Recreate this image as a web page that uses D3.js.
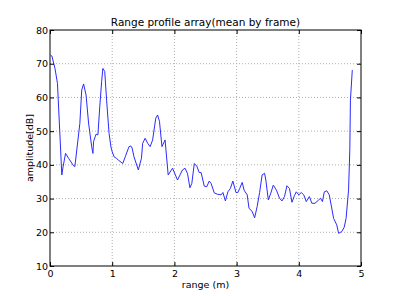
<!DOCTYPE html>
<html>
<head>
<meta charset="utf-8">
<script src="https://cdn.jsdelivr.net/npm/d3@7"></script>
<style>
  body { margin: 0; background: #fff; }
  svg { display: block; font-family: "DejaVu Sans", sans-serif; }
  .grid line { stroke: #b0b0b0; stroke-dasharray: 1,2; }
</style>
</head>
<body>
<div id="chart"></div>
<script>
// range (m) and mean amplitude (dB)
var rangeM = [0.01, 0.03, 0.08, 0.12, 0.19, 0.21, 0.25, 0.30, 0.38, 0.40, 0.48, 0.51, 0.54, 0.58, 0.62, 0.67, 0.69,
  0.70, 0.73, 0.74, 0.77, 0.80, 0.83, 0.85, 0.88, 0.91, 0.95, 0.98, 1.00, 1.03, 1.07, 1.10, 1.17, 1.21, 1.27, 1.30,
  1.32, 1.35, 1.42, 1.47, 1.49, 1.53, 1.57, 1.61, 1.65, 1.70, 1.73, 1.76, 1.80, 1.85, 1.90, 1.97, 2.05, 2.13, 2.17,
  2.21, 2.25, 2.28, 2.32, 2.36, 2.40, 2.43, 2.48, 2.52, 2.56, 2.59, 2.64, 2.69, 2.75, 2.78, 2.82, 2.86, 2.90, 2.94,
  2.99, 3.02, 3.05, 3.09, 3.12, 3.17, 3.20, 3.25, 3.29, 3.33, 3.37, 3.41, 3.45, 3.47, 3.51, 3.55, 3.59, 3.64, 3.69,
  3.73, 3.77, 3.81, 3.85, 3.89, 3.93, 3.96, 4.00, 4.04, 4.08, 4.12, 4.17, 4.21, 4.26, 4.32, 4.35, 4.38, 4.41, 4.45,
  4.49, 4.52, 4.56, 4.61, 4.64, 4.69, 4.73, 4.76, 4.80, 4.82, 4.83, 4.86];
var amplitude = [72.6, 72.3, 68.6, 64.2, 37.0, 39.4, 43.4, 41.9, 39.7, 39.5, 52.3, 62.2, 64.0, 60.7, 52.4, 45.4, 43.4,
  46.9, 48.5, 49.1, 48.9, 57.2, 64.7, 68.6, 67.7, 59.2, 49.3, 45.3, 43.9, 42.4, 41.9, 41.4, 40.4, 42.4, 45.4, 45.6,
  45.0, 42.4, 38.5, 41.9, 46.4, 47.9, 46.4, 45.4, 47.4, 53.8, 54.8, 52.9, 45.4, 47.4, 37.0, 39.0, 35.5, 38.5, 39.0,
  37.5, 33.2, 34.5, 40.4, 39.6, 37.7, 37.7, 33.7, 33.5, 35.2, 34.5, 31.7, 31.3, 31.1, 31.8, 29.3, 32.0, 33.0, 35.2,
  31.8, 31.8, 33.0, 34.8, 32.5, 31.1, 27.1, 26.2, 24.3, 27.6, 31.8, 37.0, 37.5, 35.5, 29.6, 31.6, 34.0, 32.5, 30.1,
  29.3, 30.6, 33.8, 33.0, 28.9, 30.9, 32.0, 31.1, 31.8, 31.1, 29.1, 30.6, 28.6, 28.6, 29.6, 30.1, 29.1, 32.0, 32.3,
  31.1, 28.1, 24.1, 22.2, 19.7, 20.2, 21.5, 24.1, 32.5, 44.4, 59.2, 68.1];
var xTicks = [0, 1, 2, 3, 4, 5];
var yTicks = [10, 20, 30, 40, 50, 60, 70, 80];

var W = 400, H = 296;
var margin = { top: 30, right: 39, bottom: 30, left: 50 };
var w = W - margin.left - margin.right, h = H - margin.top - margin.bottom;

var svg = d3.select("#chart").append("svg").attr("width", W).attr("height", H);
var g = svg.append("g").attr("transform", "translate(" + margin.left + "," + margin.top + ")");

var x = d3.scaleLinear().domain([0, 5]).range([0, w]);
var y = d3.scaleLinear().domain([10, 80]).range([h, 0]);

// dotted grid
g.append("g").attr("class", "grid").selectAll("line").data(xTicks.slice(1, -1)).enter().append("line")
  .attr("x1", function (d) { return x(d); }).attr("x2", function (d) { return x(d); })
  .attr("y1", 0).attr("y2", h);
g.append("g").attr("class", "grid").selectAll("line").data(yTicks.slice(1, -1)).enter().append("line")
  .attr("y1", function (d) { return y(d); }).attr("y2", function (d) { return y(d); })
  .attr("x1", 0).attr("x2", w);

var line = d3.line().x(function (d, i) { return x(rangeM[i]); }).y(function (d) { return y(d); });
g.append("path").datum(amplitude).attr("d", line).attr("fill", "none").attr("stroke", "#2b2bff").attr("stroke-width", 1);

// axes, ticks pointing inwards like classic matplotlib
function styleAxis(sel) {
  sel.select(".domain").remove();
  sel.selectAll("text").attr("font-size", 9.5).attr("fill", "#000").attr("font-family", "DejaVu Sans");
  sel.selectAll(".tick line").attr("stroke", "#000");
}
g.append("g").attr("transform", "translate(0," + h + ")")
  .call(d3.axisBottom(x).tickValues(xTicks).tickFormat(d3.format("d")).tickSizeInner(-4).tickPadding(4)).call(styleAxis);
g.append("g")
  .call(d3.axisTop(x).tickValues(xTicks).tickSizeInner(-4).tickFormat("")).call(styleAxis);
g.append("g")
  .call(d3.axisLeft(y).tickValues(yTicks).tickFormat(d3.format("d")).tickSizeInner(-4).tickPadding(2)).call(styleAxis);
g.append("g").attr("transform", "translate(" + w + ",0)")
  .call(d3.axisRight(y).tickValues(yTicks).tickSizeInner(-4).tickFormat("")).call(styleAxis);

g.append("rect").attr("width", w).attr("height", h).attr("fill", "none").attr("stroke", "#000").attr("stroke-width", 1);

svg.append("text").attr("x", margin.left + w / 2).attr("y", 26).attr("text-anchor", "middle")
  .attr("font-size", 10.5).text("Range profile array(mean by frame)");
svg.append("text").attr("x", margin.left + w / 2).attr("y", 288).attr("text-anchor", "middle")
  .attr("font-size", 9.5).text("range (m)");
svg.append("text").attr("transform", "translate(33," + (margin.top + h / 2) + ") rotate(-90)")
  .attr("text-anchor", "middle").attr("font-size", 9.5).text("amplitude[dB]");
</script>
</body>
</html>
